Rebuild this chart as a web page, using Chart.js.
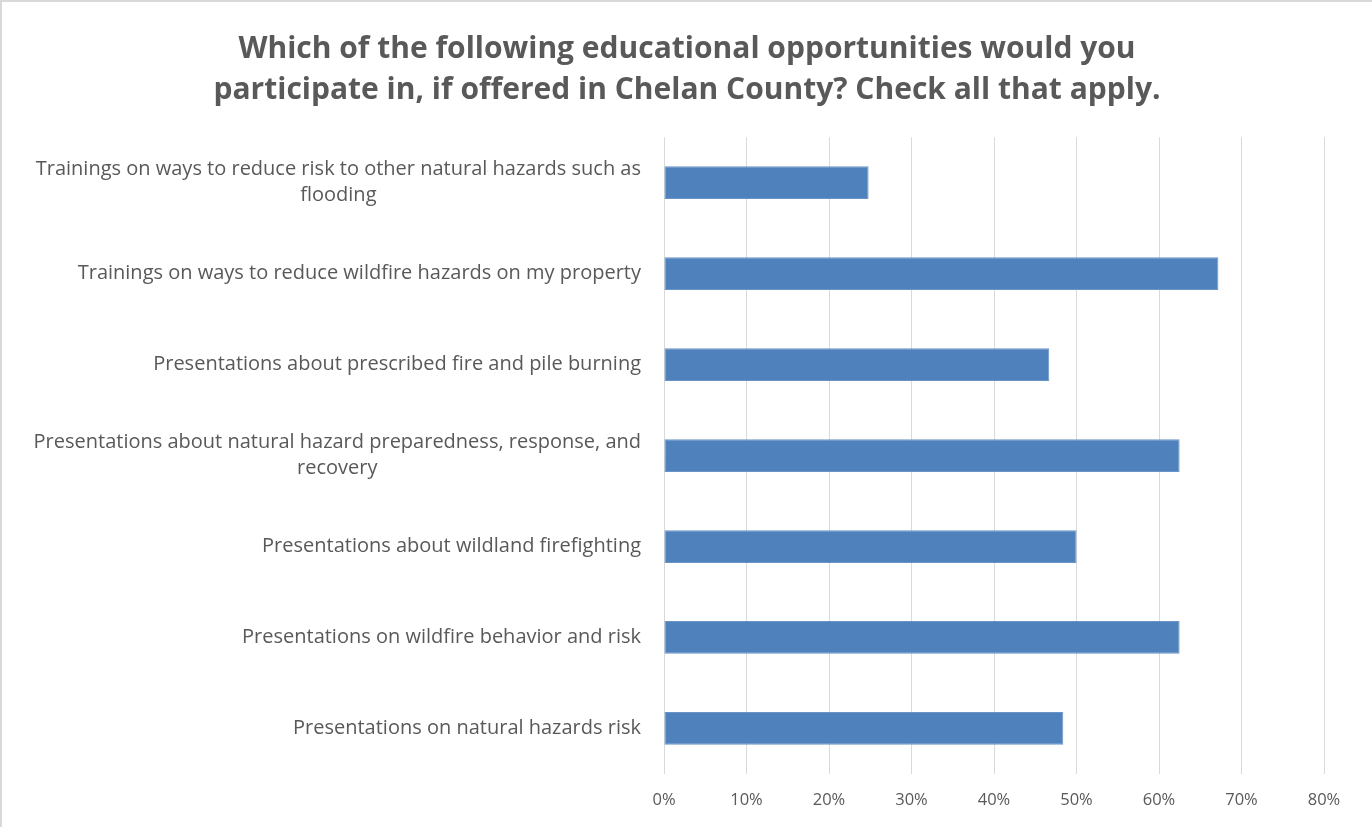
<!DOCTYPE html>
<html>
<head>
<meta charset="utf-8">
<script src="https://cdn.jsdelivr.net/npm/chart.js@4.4.1/dist/chart.umd.min.js"></script>
<style>
  html, body { margin: 0; padding: 0; background: #ffffff; }
  #wrap { position: relative; width: 1372px; height: 827px; box-sizing: border-box; border-top: 2px solid #d9d9d9; border-left: 2px solid #d9d9d9; }
  canvas { display: block; }
</style>
</head>
<body>
<div id="wrap"><canvas id="chart-edu"></canvas></div>
<script>
const titleLines = [
  'Which of the following educational opportunities would you',
  'participate in, if offered in Chelan County? Check all that apply.',
];

const categories = [
  ['Trainings on ways to reduce risk to other natural hazards such as', 'flooding'],
  ['Trainings on ways to reduce wildfire hazards on my property'],
  ['Presentations about prescribed fire and pile burning'],
  ['Presentations about natural hazard preparedness, response, and', 'recovery'],
  ['Presentations about wildland firefighting'],
  ['Presentations on wildfire behavior and risk'],
  ['Presentations on natural hazards risk'],
];

const shares = [24.8, 67.2, 46.7, 62.5, 50.0, 62.5, 48.4];

const axisMin = 0;
const axisMax = 80;
const axisStep = 10;

const textColor = '#595959';
const labelFont = '20px "Open Sans"';

// draws the category labels the way the spreadsheet does: block right-aligned, lines centred on each other
const categoryLabels = {
  id: 'categoryLabels',
  afterDraw(chart) {
    const { ctx } = chart;
    const yScale = chart.scales.y;
    const right = chart.chartArea.left - 23;
    const lineGap = 26;

    ctx.save();
    ctx.font = labelFont;
    ctx.fillStyle = textColor;
    ctx.textAlign = 'center';
    ctx.textBaseline = 'middle';

    categories.forEach((lines, index) => {
      const widest = Math.max(...lines.map((line) => ctx.measureText(line).width));
      const centerX = right - widest / 2;
      const centerY = yScale.getPixelForValue(index);
      const startY = centerY - ((lines.length - 1) * lineGap) / 2;
      lines.forEach((line, lineIndex) => {
        ctx.fillText(line, centerX, startY + lineIndex * lineGap);
      });
    });

    ctx.restore();
  },
};

new Chart(document.getElementById('chart-edu'), {
  type: 'bar',
  data: {
    labels: categories.map((lines) => lines.join(' ')),
    datasets: [{
      data: shares,
      backgroundColor: '#4f81bd',
      borderColor: '#6a94c8',
      borderWidth: 1,
      borderSkipped: false,
      categoryPercentage: 1,
      barPercentage: 0.36,
    }],
  },
  options: {
    indexAxis: 'y',
    responsive: true,
    maintainAspectRatio: false,
    animation: false,
    layout: {
      padding: { left: 48, right: 48, top: 0, bottom: 0 },
    },
    plugins: {
      legend: { display: false },
      tooltip: { enabled: false },
      title: {
        display: true,
        text: titleLines,
        color: textColor,
        font: { family: 'Open Sans', size: 30, weight: 'bold', lineHeight: 1.37 },
        padding: { top: 27, bottom: 26 },
      },
    },
    scales: {
      x: {
        min: axisMin,
        max: axisMax,
        grid: { color: '#d9d9d9', lineWidth: 1, drawTicks: false },
        border: { display: false },
        ticks: {
          stepSize: axisStep,
          color: textColor,
          font: { family: 'Open Sans', size: 16.5, lineHeight: 0.55 },
          padding: 22,
          callback: (value) => `${value}%`,
        },
      },
      y: {
        grid: { display: false },
        border: { display: false },
        ticks: { display: false },
        afterFit(scale) {
          scale.width = 614;
        },
      },
    },
  },
  plugins: [categoryLabels],
});
</script>
</body>
</html>
